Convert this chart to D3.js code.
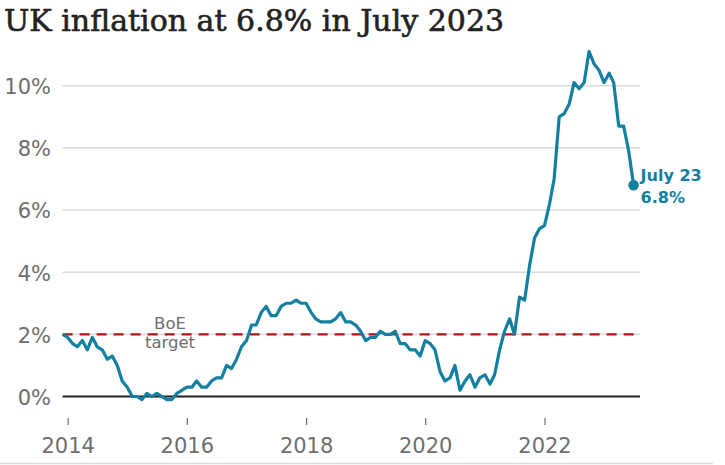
<!DOCTYPE html>
<html>
<head>
<meta charset="utf-8">
<script src="https://cdn.jsdelivr.net/npm/d3@7"></script>
<style>
  html, body { margin: 0; padding: 0; background: #fff; }
  svg { display: block; }
</style>
</head>
<body>
<div id="chart"></div>
<script>
// UK CPI, 12-month rate, monthly from Dec 2013 to Jul 2023
const firstMonth = "2013-12";
const cpi = [
  2.0,
  1.9, 1.7, 1.6, 1.8, 1.5, 1.9, 1.6, 1.5, 1.2, 1.3, 1.0, 0.5,
  0.3, 0.0, 0.0, -0.1, 0.1, 0.0, 0.1, 0.0, -0.1, -0.1, 0.1, 0.2,
  0.3, 0.3, 0.5, 0.3, 0.3, 0.5, 0.6, 0.6, 1.0, 0.9, 1.2, 1.6,
  1.8, 2.3, 2.3, 2.7, 2.9, 2.6, 2.6, 2.9, 3.0, 3.0, 3.1, 3.0,
  3.0, 2.7, 2.5, 2.4, 2.4, 2.4, 2.5, 2.7, 2.4, 2.4, 2.3, 2.1,
  1.8, 1.9, 1.9, 2.1, 2.0, 2.0, 2.1, 1.7, 1.7, 1.5, 1.5, 1.3,
  1.8, 1.7, 1.5, 0.8, 0.5, 0.6, 1.0, 0.2, 0.5, 0.7, 0.3, 0.6,
  0.7, 0.4, 0.7, 1.5, 2.1, 2.5, 2.0, 3.2, 3.1, 4.2, 5.1, 5.4,
  5.5, 6.2, 7.0, 9.0, 9.1, 9.4, 10.1, 9.9, 10.1, 11.1, 10.7, 10.5,
  10.1, 10.4, 10.1, 8.7, 8.7, 7.9, 6.8
];
const yTicks = [0, 2, 4, 6, 8, 10];
const xTickLabels = ["2014", "2016", "2018", "2020", "2022"];
const target = 2;
const title = "UK inflation at 6.8% in July 2023";
const targetLabel = ["BoE", "target"];
const lastLabel = ["July 23", "6.8%"];

const width = 725;
const height = 465;
const teal = "#1380a1";
const grey = "#6e6e6e";
const sans = "'DejaVu Sans', sans-serif";

const parseMonth = d3.timeParse("%Y-%m");
const start = parseMonth(firstMonth);
const data = cpi.map(function (v, i) {
  return { date: d3.timeMonth.offset(start, i), value: v };
});

const x = d3.scaleTime()
  .domain([parseMonth("2014-01"), parseMonth("2022-01")])
  .range([67.7, 544.5]);
const y = d3.scaleLinear()
  .domain([0, 10])
  .range([396.5, 85.7]);

const left = x(start);
const right = 640;

const svg = d3.select("#chart")
  .append("svg")
  .attr("width", width)
  .attr("height", height);

svg.append("text")
  .attr("x", 4)
  .attr("y", 31)
  .attr("font-family", "'DejaVu Serif', serif")
  .attr("font-size", 30)
  .attr("fill", "#222")
  .attr("stroke", "#222")
  .attr("stroke-width", 0.6)
  .text(title);

// gridlines
svg.append("g")
  .selectAll("line")
  .data(yTicks.filter(function (d) { return d !== 0; }))
  .enter()
  .append("line")
  .attr("x1", left)
  .attr("x2", right)
  .attr("y1", function (d) { return y(d); })
  .attr("y2", function (d) { return y(d); })
  .attr("stroke", "#dcdcdc")
  .attr("stroke-width", 1.5);

// y labels
svg.append("g")
  .selectAll("text")
  .data(yTicks)
  .enter()
  .append("text")
  .attr("x", 51)
  .attr("y", function (d) { return y(d); })
  .attr("dy", "0.4em")
  .attr("text-anchor", "end")
  .attr("font-family", sans)
  .attr("font-size", 21)
  .attr("fill", grey)
  .text(function (d) { return d + "%"; });

// x axis ticks and labels
const xTickDates = xTickLabels.map(function (d) { return d3.timeParse("%Y")(d); });
const xAxis = d3.axisBottom(x)
  .tickValues(xTickDates)
  .tickSize(7)
  .tickFormat(d3.timeFormat("%Y"));
const xg = svg.append("g")
  .attr("transform", "translate(0,418)")
  .call(xAxis);
xg.select(".domain").remove();
xg.selectAll(".tick line").attr("stroke", grey).attr("stroke-width", 1.2);
xg.selectAll(".tick text")
  .attr("y", 35)
  .attr("dy", 0)
  .attr("font-family", sans)
  .attr("font-size", 21)
  .attr("fill", grey);

// target line
svg.append("line")
  .attr("x1", left)
  .attr("x2", right)
  .attr("y1", y(target))
  .attr("y2", y(target))
  .attr("stroke", "#b01515")
  .attr("stroke-width", 2.2)
  .attr("stroke-dasharray", "10,7");

svg.append("g")
  .selectAll("text")
  .data(targetLabel)
  .enter()
  .append("text")
  .attr("x", 170)
  .attr("y", function (d, i) { return i === 0 ? 329 : 348; })
  .attr("text-anchor", "middle")
  .attr("font-family", sans)
  .attr("font-size", 16.5)
  .attr("fill", grey)
  .text(function (d) { return d; });

// zero line
svg.append("line")
  .attr("x1", left)
  .attr("x2", right)
  .attr("y1", y(0))
  .attr("y2", y(0))
  .attr("stroke", "#222")
  .attr("stroke-width", 2);

// inflation line
const line = d3.line()
  .x(function (d) { return x(d.date); })
  .y(function (d) { return y(d.value); });

svg.append("path")
  .datum(data)
  .attr("d", line)
  .attr("fill", "none")
  .attr("stroke", teal)
  .attr("stroke-width", 3.2)
  .attr("stroke-linejoin", "round");

const last = data[data.length - 1];
svg.append("circle")
  .attr("cx", x(last.date))
  .attr("cy", y(last.value))
  .attr("r", 5.3)
  .attr("fill", teal);

svg.append("g")
  .selectAll("text")
  .data(lastLabel)
  .enter()
  .append("text")
  .attr("x", x(last.date) + 7)
  .attr("y", function (d, i) { return i === 0 ? 180.5 : 203; })
  .attr("font-family", sans)
  .attr("font-weight", "bold")
  .attr("font-size", 16)
  .attr("fill", teal)
  .text(function (d) { return d; });

// bottom rule
svg.append("line")
  .attr("x1", 0)
  .attr("x2", 713)
  .attr("y1", 463.5)
  .attr("y2", 463.5)
  .attr("stroke", "#dddddd")
  .attr("stroke-width", 1.5);
</script>
</body>
</html>
